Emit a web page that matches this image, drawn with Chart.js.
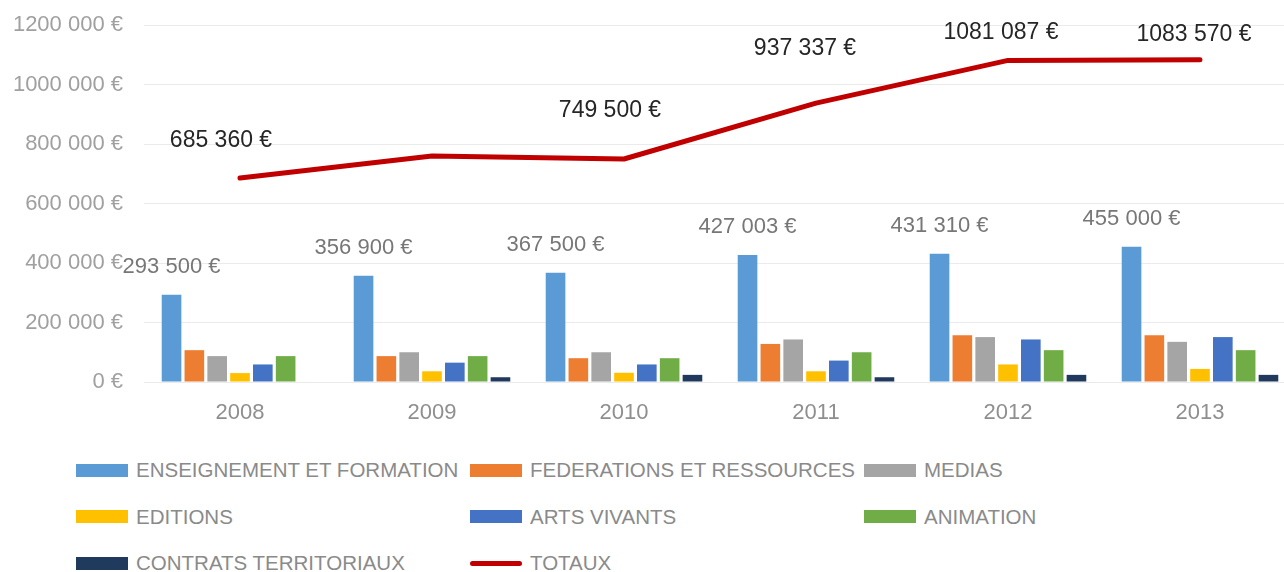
<!DOCTYPE html>
<html>
<head>
<meta charset="utf-8">
<script src="https://cdn.jsdelivr.net/npm/chart.js@4.4.1/dist/chart.umd.min.js"></script>
<style>
  html, body { margin:0; padding:0; background:#fff; overflow:hidden; width:1284px; height:572px; }
  #wrap { position:absolute; left:0; top:0; width:1300px; height:434px; }
  #legend { position:absolute; left:76px; top:447px; display:grid; grid-template-columns:394px 394px 394px; grid-template-rows:46.5px 46.5px 46.5px; font-family:"Liberation Sans", Arial, sans-serif; font-size:20.5px; color:#8a8a8a; }
  .item { display:flex; align-items:center; white-space:nowrap; }
  .sw { width:52px; height:13px; margin-right:8px; flex:none; }
  .ln { width:52px; height:5px; border-radius:3px; margin-right:8px; flex:none; }
</style>
</head>
<body>
<div id="wrap"><canvas id="c"></canvas></div>
<div id="legend"></div>
<script>
const years = ['2008', '2009', '2010', '2011', '2012', '2013'];
const seriesNames = ['ENSEIGNEMENT ET FORMATION', 'FEDERATIONS ET RESSOURCES', 'MEDIAS', 'EDITIONS', 'ARTS VIVANTS', 'ANIMATION', 'CONTRATS TERRITORIAUX'];
const enseignement = [293500, 356900, 367500, 427003, 431310, 455000];
const federations = [107000, 87000, 80000, 128000, 157000, 157000];
const medias = [87000, 100000, 100000, 143000, 151000, 135000];
const editions = [30000, 36000, 31000, 36000, 59000, 44000];
const artsVivants = [59000, 65000, 59000, 72000, 143000, 151000];
const animation = [87000, 87000, 80000, 100000, 107000, 107000];
const contrats = [null, 16000, 24000, 16000, 24000, 24000];
const totauxName = 'TOTAUX';
const totaux = [685360, 760000, 749500, 937337, 1081087, 1083570];
const yTicks = [0, 200000, 400000, 600000, 800000, 1000000, 1200000];

const colors = ['#5B9BD5', '#ED7D31', '#A5A5A5', '#FFC000', '#4472C4', '#70AD47', '#1F3A5C'];
const lineColor = '#C00000';
// label offsets (px) for the total line labels, relative to each point; null = no label
const lineLabelOffsets = [[-19, -37], null, [-14, -48], [-11, -54], [-7, -28], [-6, -25]];

function fmt(n) {
  if (n < 1000) return n + ' €';
  const th = Math.floor(n / 1000), r = n % 1000;
  return th + ' ' + String(r).padStart(3, '0') + ' €';
}

const FONT = '"Liberation Sans", Arial, sans-serif';
const seriesValues = [enseignement, federations, medias, editions, artsVivants, animation, contrats];
const datasets = seriesValues.map((vals, i) => ({
  type: 'bar', label: seriesNames[i], data: vals, backgroundColor: colors[i],
  borderWidth: 0,
  categoryPercentage: 0.832, barPercentage: 0.86, order: 2
}));
datasets.push({
  type: 'line', label: totauxName, data: totaux, borderColor: lineColor, backgroundColor: lineColor,
  borderWidth: 5, pointRadius: 0, tension: 0, borderCapStyle: 'round', borderJoinStyle: 'round', order: 0
});

const labelPlugin = {
  id: 'labels',
  afterDatasetsDraw(chart) {
    const ctx = chart.ctx;
    ctx.save();
    ctx.textAlign = 'center';
    ctx.textBaseline = 'middle';
    const m0 = chart.getDatasetMeta(0);
    ctx.font = '22px ' + FONT;
    ctx.fillStyle = '#777777';
    m0.data.forEach((el, i) => {
      ctx.fillText(fmt(enseignement[i]), el.x, el.y - 28);
    });
    const ml = chart.getDatasetMeta(7);
    ctx.font = '23px ' + FONT;
    ctx.fillStyle = '#262626';
    ml.data.forEach((el, i) => {
      const o = lineLabelOffsets[i];
      if (!o) return;
      ctx.fillText(fmt(totaux[i]), el.x + o[0], el.y + o[1]);
    });
    ctx.restore();
  }
};

new Chart(document.getElementById('c'), {
  type: 'bar',
  data: { labels: years, datasets },
  plugins: [labelPlugin],
  options: {
    responsive: true, maintainAspectRatio: false, animation: false,
    layout: { padding: { top: 25, right: 4, left: 0, bottom: 0 } },
    plugins: { legend: { display: false }, tooltip: { enabled: false } },
    scales: {
      x: {
        grid: { display: false, drawTicks: false },
        border: { display: false },
        ticks: { color: '#8f8f8f', font: { family: FONT, size: 22 }, padding: 18 },
        afterFit(s) { s.height = 52; s.paddingLeft = 0; s.paddingRight = 0; }
      },
      y: {
        min: 0, max: 1200000,
        afterBuildTicks(s) { s.ticks = yTicks.map(v => ({ value: v })); },
        grid: { color: '#ebebeb', lineWidth: 1, drawTicks: false },
        border: { display: false },
        ticks: { color: '#a0a0a0', font: { family: FONT, size: 22 }, padding: 21, callback: v => fmt(v) },
        afterFit(s) { s.width = 144; s.paddingTop = 0; s.paddingBottom = 0; }
      }
    }
  }
});

const lg = document.getElementById('legend');
seriesNames.forEach((n, i) => {
  const d = document.createElement('div'); d.className = 'item';
  d.innerHTML = '<span class="sw" style="background:' + colors[i] + '"></span><span>' + n + '</span>';
  lg.appendChild(d);
});
const d = document.createElement('div'); d.className = 'item';
d.innerHTML = '<span class="ln" style="background:' + lineColor + '"></span><span>' + totauxName + '</span>';
lg.appendChild(d);
</script>
</body>
</html>
